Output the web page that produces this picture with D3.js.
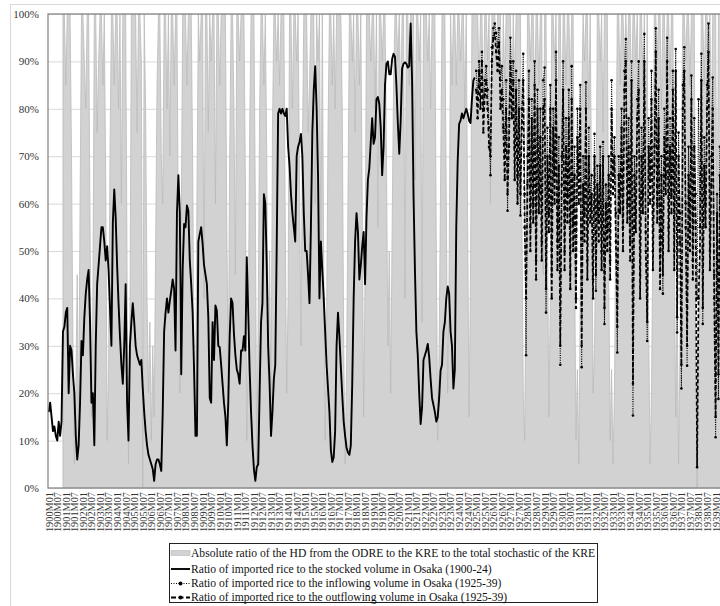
<!DOCTYPE html>
<html>
<head>
<meta charset="utf-8">
<script src="https://cdn.jsdelivr.net/npm/d3@7"></script>
<style>
  body { margin: 0; background: #fff; }
  svg { display: block; font-family: "Liberation Serif", "Times New Roman", serif; }
</style>
</head>
<body>
<svg id="chart" width="720" height="606"></svg>
<script>
// Monthly categories 1900M01 .. 1939M12
const years = d3.range(1900, 1940);
const monthCodes = ["01","02","03","04","05","06","07","08","09","10","11","12"];
const categories = years.flatMap(y => monthCodes.map(m => `${y}M${m}`));
const tickLabels = categories.filter(c => c.endsWith("M01") || c.endsWith("M07"));
const yTicks = [0, 10, 20, 30, 40, 50, 60, 70, 80, 90, 100];

// Absolute ratio of the HD (ODRE -> KRE) to the total of the KRE, %, 1900-1939
const hdRatio = [
  null,null,null,null,null,null,null,null,null,null,100,100,
  85,100,100,100,70,30,5,20,45,10,60,100,
  100,90,80,100,100,55,15,40,100,100,75,90,
  100,100,85,100,65,10,25,70,100,100,85,100,
  100,80,100,60,100,100,100,45,5,35,100,100,
  100,100,75,100,100,90,0,100,80,40,20,35,
  10,30,15,50,85,100,100,70,60,100,100,80,
  100,70,100,100,85,100,100,50,20,55,100,100,
  100,85,100,100,100,70,25,15,60,100,90,100,
  100,40,100,100,75,100,90,100,100,60,100,100,
  85,100,100,100,100,55,20,70,100,100,80,45,
  100,100,90,100,100,100,65,10,30,75,100,100,
  100,60,5,35,80,100,100,85,100,70,25,50,
  15,75,100,100,90,100,85,100,100,100,55,20,
  40,100,100,80,100,100,90,100,65,30,70,100,
  100,100,75,85,100,100,100,60,100,90,100,50,
  100,45,10,35,75,100,100,85,100,80,100,100,
  100,100,80,30,5,25,60,100,100,90,100,75,
  100,100,85,100,60,15,45,100,100,100,90,100,
  100,80,100,55,100,100,90,100,100,70,30,50,
  20,55,85,100,100,90,100,80,100,100,40,100,
  100,85,100,100,100,65,100,100,90,100,35,100,
  100,100,90,100,80,100,100,100,50,10,30,65,
  100,100,100,60,20,45,100,85,100,100,85,100,
  100,90,100,100,80,100,55,15,45,100,100,100,
  100,100,85,100,100,80,100,100,90,100,60,100,
  100,100,90,100,100,100,75,100,85,100,100,100,
  100,80,100,85,100,100,100,100,60,20,10,50,
  100,100,90,100,100,80,100,100,85,100,100,45,
  100,100,55,15,40,100,100,90,100,70,100,100,
  70,100,100,85,100,100,85,100,100,50,10,25,
  5,40,80,100,90,100,100,80,100,60,20,30,
  55,100,100,90,100,75,100,100,100,45,10,25,
  5,20,60,100,100,85,100,100,90,100,90,100,
  100,80,100,100,90,100,80,100,100,85,100,65,
  100,35,5,20,55,100,100,90,100,100,80,100,
  100,85,100,100,85,100,100,50,15,40,5,30,
  70,100,100,90,100,100,85,100,100,100,35,0,
  20,60,100,100,85,100,100,90,100,75,100,100,
  100,45,100,100,100,100,100,100,100,100,100,100
];

// Ratio of imported rice to the stocked volume in Osaka, %, 1900M01-1924M12
const stockRatio = [
  16,18,15,12,13,11,10,14,11,14,33,34,
  37,38,20,30,29,24,20,11,6,9,18,31,
  28,36,41,44,46,35,18,20,9,30,43,47,
  51,55,55,52,48,51,46,38,30,56,63,57,
  47,39,32,26,22,30,43,18,10,30,35,39,
  35,30,28,27,26,27,21,16,12,9,7,6,
  5,4,1.5,5,6,6,5,3.6,16,33,37,40,
  37,39.5,41.6,44,42,29,58,66,58,24,46,55.7,
  55,59.6,58.5,48,43,37,25,11,11,52,53.6,55,
  51.5,47,45,43,36,19,18,35,27,38.5,37.4,30,
  29.7,26,22,18,15,9,18,32,40,39,32.5,28,
  25,24,22,29,29,32,29,48.7,37,25,16,9,
  4,1.5,4.4,5,20,35,39,62,60,47,30,22,
  11,16,23,26,51,79,80,79,80,79,78.5,80,
  72,68,62,58,55,52,70,72,73,74.7,70,58,
  50,50,45,39,55,75,84,89,80,66,40,52,
  46,40,33,26,21,16,8,5.5,6.5,12,30,37,
  32,25.5,19.5,14,11,8.5,7.5,7,9,22,40,52,
  58,54,44,47,51,54,43,57,65,67.5,73,78,
  72.6,74,82,82.5,81,76,66,72,85,89.5,90,87.3,
  87.3,90.5,91.6,91,85,77,70.5,77.5,88.5,89.5,89.8,89.5,
  88.7,89,98,86,62,46,33,28,20,13.5,17,27,
  28,29,30.4,27.6,23,19,17.5,16,14,15,19,24.8,
  26,33,35,40,42.5,41,33,30,21,25,55,69,
  76.8,77.5,79,78,79,80,79,77.5,77,82,86,86.6
];

// Ratio of imported rice to the inflowing volume in Osaka, %, 1925M01-1939M12
const inflowRatio = [
  88,82,90,85,92,80,86,89,84,76,66,93,
  97,98,96,93,97,86,89,82,70,86,58.5,78,
  95,84,90,72,88,66,86,57.5,80,91.6,62,28,
  70,88,55,82,60,90,48,84,63,80,52,86,
  88.7,37,76,58,85,45,80,66,92,52,74,26,
  70,90,50,78,62,84,45,89,56,72,40,80,
  66,85,25.5,70,58,85.6,48,76,60,66,44,74.7,
  41.6,68,56,72,50,73,34.6,64,55,70,48,86,
  66,74,58,28.6,70,62,80,55,88,94.7,60,78,
  52,90,15.3,70,58,82,90,45,76,62,95.8,54,
  31,78,65,88,50,72,97,60,84,46,70,41,
  80,66,95,55,78,62,88,50,92.6,32.8,75,58,
  21,85,93,60,25.8,72,55,87,48,78,62,40,
  82,55,91.6,34.6,74,60,85,98,50,70,86.6,45,
  10.7,62,18.8,72,55,80,60,75,50,68,58,70
];

// Ratio of imported rice to the outflowing volume in Osaka, %, 1925M01-1939M12
const outflowRatio = [
  84,78,88,80,90,75,83,86,80,72,70,90,
  95,96,92,88,94,80,84,76,65,80,62,72,
  90,78,86,65,84,60,80,62,76,86,55,40,
  64,82,50,78,56,85,44,80,58,74,48,80,
  82,42,70,54,80,40,76,60,86,46,68,30,
  64,84,46,72,56,78,42,82,50,66,38,74,
  60,80,30,64,52,80,44,70,56,62,40,70,
  45,64,52,68,46,70,38,60,50,66,44,80,
  62,70,52,34,66,58,76,50,84,90,56,72,
  48,86,22,66,54,78,84,40,70,58,90,50,
  35,72,60,82,46,68,92,56,78,42,66,45,
  74,62,90,50,72,58,84,46,88,36,70,52,
  26,80,88,55,30,66,50,82,44,72,56,4.4,
  40,50,86,38,68,55,80,92,46,64,80,40,
  15,58,24,66,50,76,55,70,46,62,54,64
];

const legendItems = [
  "Absolute ratio of the HD from the ODRE to the KRE to the total stochastic of the KRE",
  "Ratio of imported rice to the stocked volume in Osaka (1900-24)",
  "Ratio of imported rice to the inflowing volume in Osaka (1925-39)",
  "Ratio of imported rice to the outflowing volume in Osaka (1925-39)"
];

const W = 720;
const svg = d3.select("#chart");
const plot = { left: 48, top: 14, right: 732, bottom: 488 };

// chart area frame
svg.append("rect").attr("x", 10.5).attr("y", 4.5).attr("width", 800).attr("height", 700)
  .attr("fill", "#fff").attr("stroke", "#d9d9d9");

const x = d3.scalePoint().domain(categories).range([plot.left, plot.right]).padding(0.5);
const y = d3.scaleLinear().domain([0, 100]).range([plot.bottom, plot.top]);

// horizontal gridlines
svg.append("g").attr("transform", `translate(${plot.left},0)`)
  .call(d3.axisLeft(y).tickValues(yTicks).tickSize(-(plot.right - plot.left)).tickFormat(""))
  .call(g => g.select(".domain").remove())
  .call(g => g.selectAll("line").attr("stroke", "#d9d9d9"));

svg.append("clipPath").attr("id", "plotClip").append("rect")
  .attr("x", plot.left).attr("y", plot.top - 2)
  .attr("width", plot.right - plot.left).attr("height", plot.bottom - plot.top + 2);

const body = svg.append("g").attr("clip-path", "url(#plotClip)");

// grey area series
const hdData = categories.map((c, i) => ({ c, v: hdRatio[i] }));
body.append("path").datum(hdData)
  .attr("d", d3.area().defined(d => d.v != null)
    .x(d => x(d.c)).y0(y(0)).y1(d => y(d.v)))
  .attr("fill", "#d2d2d2").attr("stroke", "#bababa").attr("stroke-width", 0.8);

const lineGen = d3.line().x(d => x(d.c)).y(d => y(d.v));

const stockData = stockRatio.map((v, i) => ({ c: categories[i], v }));
const inflowData = inflowRatio.map((v, i) => ({ c: categories[300 + i], v }));
const outflowData = outflowRatio.map((v, i) => ({ c: categories[300 + i], v }));

body.append("path").datum(stockData).attr("d", lineGen)
  .attr("fill", "none").attr("stroke", "#000").attr("stroke-width", 1.9).attr("stroke-linejoin", "round");

body.append("path").datum(outflowData).attr("d", lineGen)
  .attr("fill", "none").attr("stroke", "#000").attr("stroke-width", 1.7)
  .attr("stroke-dasharray", "4,2.5");
body.selectAll("circle.out").data(outflowData).join("circle").attr("class", "out")
  .attr("cx", d => x(d.c)).attr("cy", d => y(d.v)).attr("r", 1.3).attr("fill", "#000");

body.append("path").datum(inflowData).attr("d", lineGen)
  .attr("fill", "none").attr("stroke", "#000").attr("stroke-width", 1.1)
  .attr("stroke-dasharray", "1,1.3");
body.selectAll("circle.in").data(inflowData).join("circle").attr("class", "in")
  .attr("cx", d => x(d.c)).attr("cy", d => y(d.v)).attr("r", 1.3).attr("fill", "#000");

// plot frame
svg.append("rect").attr("x", plot.left).attr("y", plot.top)
  .attr("width", plot.right - plot.left).attr("height", plot.bottom - plot.top)
  .attr("fill", "none").attr("stroke", "#808080").attr("stroke-width", 1.2);

// y axis labels
svg.append("g").attr("transform", `translate(${plot.left},0)`)
  .call(d3.axisLeft(y).tickValues(yTicks).tickSize(0).tickPadding(9).tickFormat(d => d + "%"))
  .call(g => g.select(".domain").remove())
  .call(g => g.selectAll("text").attr("font-family", "Liberation Serif, serif")
    .attr("font-size", 11).attr("fill", "#333"));

// x axis labels (only those inside the page width)
svg.append("g").attr("transform", `translate(0,${plot.bottom})`)
  .call(d3.axisBottom(x).tickValues(tickLabels.filter(c => x(c) <= W - 4)).tickSize(0).tickPadding(0))
  .call(g => g.select(".domain").remove())
  .call(g => g.selectAll("text")
    .attr("font-family", "Liberation Serif, serif").attr("font-size", 10.3).attr("fill", "#333")
    .attr("text-anchor", "end").attr("transform", "rotate(-90)")
    .attr("x", -4).attr("y", 0).attr("dy", "0.33em"));

// legend
const lg = svg.append("g");
lg.append("rect").attr("x", 169.5).attr("y", 543.5).attr("width", 428).attr("height", 59)
  .attr("fill", "#fff").attr("stroke", "#222");
const rows = [553, 569, 583.5, 597.5];
lg.append("rect").attr("x", 171).attr("y", rows[0] - 2.5).attr("width", 19).attr("height", 5)
  .attr("fill", "#d2d2d2").attr("stroke", "#bababa").attr("stroke-width", 0.6);
lg.append("line").attr("x1", 171).attr("x2", 190).attr("y1", rows[1]).attr("y2", rows[1])
  .attr("stroke", "#000").attr("stroke-width", 1.9);
lg.append("line").attr("x1", 171).attr("x2", 190).attr("y1", rows[2]).attr("y2", rows[2])
  .attr("stroke", "#000").attr("stroke-width", 1.2).attr("stroke-dasharray", "1,1.5");
lg.append("circle").attr("cx", 180.5).attr("cy", rows[2]).attr("r", 2).attr("fill", "#000");
lg.append("line").attr("x1", 171).attr("x2", 190).attr("y1", rows[3]).attr("y2", rows[3])
  .attr("stroke", "#000").attr("stroke-width", 1.8).attr("stroke-dasharray", "5,2.5");
lg.append("circle").attr("cx", 180.5).attr("cy", rows[3]).attr("r", 2).attr("fill", "#000");
lg.selectAll("text.lt").data(legendItems).join("text").attr("class", "lt")
  .attr("x", 191).attr("y", (d, i) => rows[i] + 3.9)
  .attr("font-family", "Liberation Serif, serif").attr("font-size", 11.6).attr("fill", "#111")
  .text(d => d);
</script>
</body>
</html>
